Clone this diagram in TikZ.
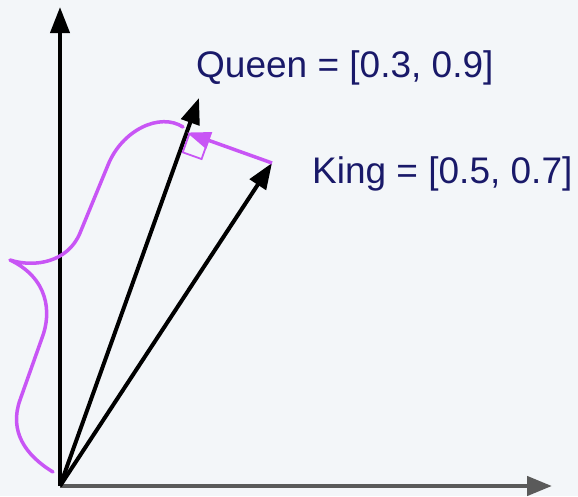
\documentclass[tikz,border=0pt]{standalone}
\usepackage{fontspec}
\setmainfont{Liberation Sans}
\usetikzlibrary{arrows.meta,calc}
\definecolor{bg}{RGB}{243,246,249}
\definecolor{vio}{RGB}{200,85,245}
\definecolor{navy}{RGB}{25,25,105}
\definecolor{axgray}{RGB}{90,90,90}
\tikzset{
  vec/.style={black,line width=4pt,-{Triangle[length=26pt,width=19pt]}},
  axisx/.style={axgray,line width=4.5pt,-{Triangle[length=25pt,width=19pt]}},
  proj/.style={vio,line width=3.5pt,-{Triangle[length=24pt,width=17pt]}},
  bracecurve/.style={vio,line width=3.5pt,line cap=round,line join=round},
  rightangle/.style={vio,line width=1.8pt},
  lbl/.style={text=navy,font=\fontsize{37}{44}\selectfont,inner sep=0pt}
}
\begin{document}
\begin{tikzpicture}[x=1pt,y=-1pt]
\fill[bg] (0,0) rectangle (578,496);
\useasboundingbox (0,0) rectangle (578,496);
\coordinate (O) at (60,486);
\coordinate (Y) at (60,7);
\coordinate (X) at (552,486);
\coordinate (Q) at (199,98);
\coordinate (K) at (272,163);
\coordinate (F) at ($(O)!(K)!(Q)$);
\coordinate (Fs) at ($(F)!3pt!(K)$);
\coordinate (Fa0) at ($(F)!20pt!(O)$);
\coordinate (Fa) at ($(Fs)+(Fa0)-(F)$);
\coordinate (Fb) at ($(F)!23pt!(K)$);
% axes
\draw[axisx] (O) -- (X);
\draw[vec] (O) -- (Y);
% vectors
\draw[vec] (O) -- (Q);
\draw[vec] (O) -- (K);
% brace
\draw[bracecurve] (53,472) .. controls (25,455) and (9,431) .. (20,400)
  -- (42,338) .. controls (52,312) and (48,278) .. (10,260)
  .. controls (35,268) and (68,262) .. (80,233)
  -- (108,165) .. controls (122,130) and (160,112) .. (183,127);
% right angle marker
\draw[rightangle] (Fs) -- (Fa) -- ($(Fa)+(Fb)-(Fs)$) -- (Fb);
% projection arrow
\draw[proj] (K) -- (F);
% labels
\node[lbl,anchor=base west] (qlabel) at (196,77) {Queen = [0.3, 0.9]};
\node[lbl,anchor=base west] (klabel) at (312,183) {King = [0.5, 0.7]};
\end{tikzpicture}
\end{document}
